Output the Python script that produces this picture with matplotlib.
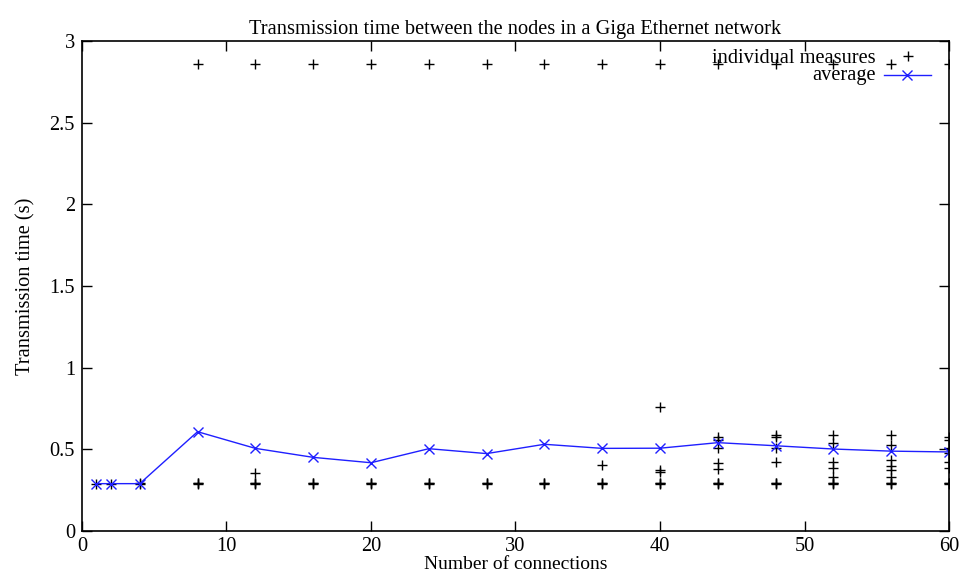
import matplotlib
matplotlib.use('Agg')
import matplotlib.pyplot as plt
from matplotlib.lines import Line2D

TITLE = 'Transmission time between the nodes in a Giga Ethernet network'

# number of connections tested
connections = [1, 2, 4, 8, 12, 16, 20, 24, 28, 32, 36, 40, 44, 48, 52, 56, 60]

# individual transmission times (s) for each number of connections
measures = [
    [0.29],
    [0.29],
    [0.288, 0.292],
    [0.288, 0.292, 0.296, 2.86],
    [0.288, 0.292, 0.296, 0.355, 2.86],
    [0.288, 0.292, 0.296, 2.86],
    [0.288, 0.292, 0.296, 2.86],
    [0.288, 0.292, 0.296, 2.86],
    [0.288, 0.292, 0.296, 2.86],
    [0.288, 0.292, 0.296, 2.86],
    [0.288, 0.292, 0.296, 0.404, 2.86],
    [0.288, 0.292, 0.296, 0.36, 0.373, 0.761, 2.86],
    [0.288, 0.292, 0.296, 0.38, 0.416, 0.51, 0.557, 0.576, 2.86],
    [0.288, 0.292, 0.296, 0.42, 0.51, 0.575, 0.588, 2.86],
    [0.288, 0.292, 0.296, 0.33, 0.385, 0.42, 0.54, 0.588, 2.86],
    [0.288, 0.292, 0.296, 0.33, 0.373, 0.40, 0.435, 0.527, 0.588, 2.86],
    [0.288, 0.292, 0.296, 0.385, 0.42, 0.48, 0.51, 0.557, 0.576, 2.86],
]

# average transmission time (s)
average = [0.29, 0.29, 0.29, 0.608, 0.506, 0.451, 0.418, 0.504, 0.474, 0.531,
           0.506, 0.507, 0.541, 0.522, 0.502, 0.489, 0.484]

BLUE = (0.12, 0.12, 1.0)


def create():
    plt.rcParams['font.family'] = ['Liberation Serif', 'DejaVu Serif']
    plt.rcParams['font.size'] = 14.7

    fig = plt.figure(figsize=(9.64, 5.78), dpi=100)
    ax = fig.add_axes([0.085, 0.0813, 0.8995, 0.8477])

    xs = [c for c, m in zip(connections, measures) for _ in m]
    ys = [v for m in measures for v in m]
    ax.plot(xs, ys, linestyle='none', marker='+', color='black',
            markersize=7, markeredgewidth=1.0)
    ax.plot(connections, average, color=BLUE, linewidth=1.0,
            marker='x', markersize=7, markeredgewidth=1.0)

    ax.set_xlim(0, 60)
    ax.set_ylim(0, 3)
    ax.set_xticks(range(0, 61, 10))
    ax.set_yticks([0, 0.5, 1, 1.5, 2, 2.5, 3])
    ax.set_yticklabels(['0', '0.5', '1', '1.5', '2', '2.5', '3'])
    ax.tick_params(direction='in', length=7, width=1, top=True, right=True, pad=5)
    ax.tick_params(axis='x', pad=4)
    for s in ax.spines.values():
        s.set_linewidth(1.2)

    ax.set_title(TITLE, fontsize=14.7, pad=5)
    ax.set_xlabel('Number of connections', fontsize=14, labelpad=0)
    ax.set_ylabel('Transmission time (s)', labelpad=10)

    # gnuplot-style key, text right aligned before the sample
    ax.text(0.915, 0.965, 'individual measures', transform=ax.transAxes,
            ha='right', va='center')
    ax.text(0.915, 0.929, 'average', transform=ax.transAxes,
            ha='right', va='center')
    ax.add_line(Line2D([0.953], [0.969], transform=ax.transAxes, linestyle='none',
                       marker='+', color='black', markersize=7, markeredgewidth=1.0))
    ax.add_line(Line2D([0.925, 0.979], [0.931, 0.931], transform=ax.transAxes,
                       color=BLUE, linewidth=1.0))
    ax.add_line(Line2D([0.952], [0.931], transform=ax.transAxes, linestyle='none',
                       marker='x', color=BLUE, markersize=7,
                       markeredgewidth=1.0))

    fig.savefig('out.png', dpi=100)


if __name__ == "__main__":
    create()
